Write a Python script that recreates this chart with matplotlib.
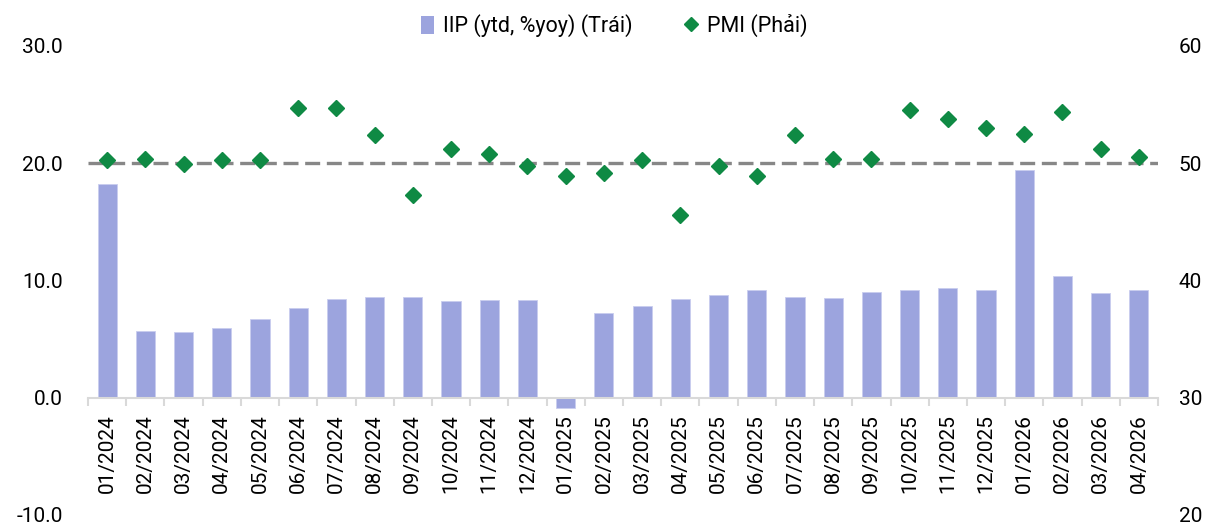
import matplotlib.pyplot as plt
import numpy as np
from matplotlib.lines import Line2D
from matplotlib.patches import Patch

plt.rcParams['font.family'] = ['Roboto', 'DejaVu Sans']

months = ['01/2024', '02/2024', '03/2024', '04/2024', '05/2024', '06/2024', '07/2024',
          '08/2024', '09/2024', '10/2024', '11/2024', '12/2024', '01/2025', '02/2025',
          '03/2025', '04/2025', '05/2025', '06/2025', '07/2025', '08/2025', '09/2025',
          '10/2025', '11/2025', '12/2025', '01/2026', '02/2026', '03/2026', '04/2026']

# IIP ytd %yoy (left axis)
iip = [18.2, 5.7, 5.6, 5.95, 6.7, 7.65, 8.45, 8.6, 8.6, 8.25, 8.35, 8.3, -0.9, 7.2,
       7.8, 8.4, 8.8, 9.2, 8.6, 8.5, 9.0, 9.2, 9.35, 9.2, 19.4, 10.35, 8.95, 9.15]

# PMI (right axis)
pmi = [50.3, 50.4, 49.9, 50.3, 50.3, 54.7, 54.7, 52.4, 47.3, 51.2, 50.8, 49.8, 48.9, 49.2,
       50.25, 45.6, 49.8, 48.9, 52.4, 50.4, 50.4, 54.5, 53.8, 53.0, 52.5, 54.4, 51.2, 50.5]

pmi_ref = 50

bar_color = '#9ca4de'
pmi_color = '#0f8a44'
axis_gray = '#d9d9d9'
fs = 15

fig = plt.figure(figsize=(12.09, 5.26), dpi=100)
ax = fig.add_axes([88 / 1209, 11 / 526, (1158 - 88) / 1209, (515 - 46) / 526])
ax2 = ax.twinx()

x = np.arange(len(months))
ax.bar(x, iip, width=0.5, color=bar_color, edgecolor='#c9cdef', linewidth=0.6, zorder=2)

ax2.axhline(pmi_ref, color='#878787', lw=2.4, linestyle=(0, (4.5, 2)), zorder=1)
ax2.plot(x, pmi, linestyle='none', marker='D', ms=8, color=pmi_color, zorder=3)

ax.set_xlim(-0.5, len(months) - 0.5)
ax.set_ylim(-10, 30)
ax2.set_ylim(20, 60)

# left axis
ax.set_yticks([-10, 0, 10, 20, 30])
ax.set_yticklabels(['%.1f' % v for v in [-10, 0, 10, 20, 30]], fontsize=fs)
ax.tick_params(axis='y', length=0, pad=18)

# right axis
ax2.set_yticks([20, 30, 40, 50, 60])
ax2.set_yticklabels(['20', '30', '40', '50', '60'], fontsize=fs)
ax2.tick_params(axis='y', length=0, pad=15)

# category axis sitting on zero
for s in ['top', 'left', 'right']:
    ax.spines[s].set_visible(False)
    ax2.spines[s].set_visible(False)
ax2.spines['bottom'].set_visible(False)
ax.spines['bottom'].set_position(('data', 0))
ax.spines['bottom'].set_color(axis_gray)
ax.spines['bottom'].set_linewidth(1.5)

ax.set_xticks(x)
ax.set_xticklabels(months, rotation=90, fontsize=fs)
ax.tick_params(axis='x', length=0, pad=12)
ax.set_xticks(np.arange(-0.5, len(months), 1), minor=True)
ax.tick_params(axis='x', which='minor', length=6, width=1.5, color=axis_gray)

handles = [Patch(facecolor=bar_color, edgecolor='none'),
           Line2D([], [], linestyle='none', marker='D', ms=7, color=pmi_color)]
fig.legend(handles, ['IIP (ytd, %yoy) (Trái)', 'PMI (Phải)'], loc='upper center',
           bbox_to_anchor=(0.508, 1.01), ncol=2, frameon=False, fontsize=15.5,
           handlelength=0.6, handleheight=0.9, handletextpad=0.45, columnspacing=2.4)

fig.savefig('out.png', dpi=100)
